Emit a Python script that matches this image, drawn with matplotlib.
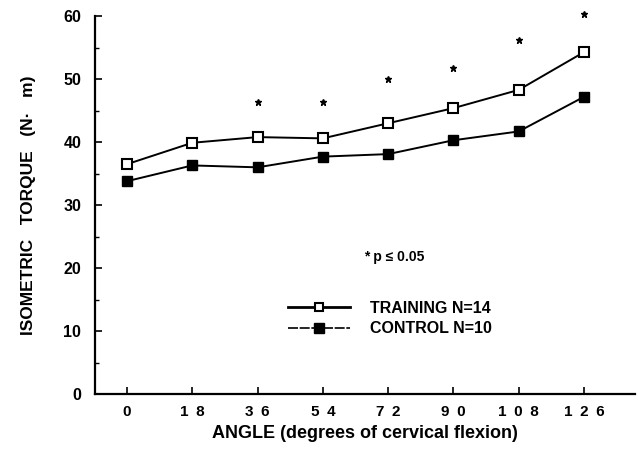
import matplotlib
matplotlib.use("Agg")
import matplotlib.pyplot as plt
from matplotlib.lines import Line2D

angles = [0, 18, 36, 54, 72, 90, 108, 126]
angle_labels = ["0", "1\u20028", "3\u20026", "5\u20024", "7\u20022", "9\u20020",
                "1\u20020\u20028", "1\u20022\u20026"]
training = [36.5, 39.9, 40.8, 40.6, 43.0, 45.4, 48.3, 54.3]
control = [33.8, 36.3, 36.0, 37.7, 38.1, 40.3, 41.7, 47.2]
sig_angles = [36, 54, 72, 90, 108, 126]
sig_y = [46.4, 46.4, 50.0, 51.8, 56.3, 60.3]
yticks = [0, 10, 20, 30, 40, 50, 60]

plt.rcParams['font.family'] = ['Liberation Sans', 'DejaVu Sans']
plt.rcParams['font.weight'] = 'bold'

fig = plt.figure(figsize=(6.38, 4.63), dpi=100)
ax = fig.add_axes([0.149, 0.149, 0.846, 0.816])

ax.plot(angles, training, color='black', lw=1.4, marker='s', ms=6.5,
        mfc='white', mec='black', mew=1.5, clip_on=False, zorder=3)
ax.plot(angles, control, color='black', lw=1.4, marker='s', ms=6.5,
        mfc='black', mec='black', clip_on=False, zorder=3)
ax.plot(sig_angles, sig_y, ls='none', marker='*', ms=5, color='black',
        clip_on=False, zorder=3)

ax.set_xlim(-8.8, 140)
ax.set_ylim(0, 60)
ax.set_xticks(angles)
ax.set_xticklabels(angle_labels)
ax.set_yticks(yticks)
ax.set_yticks([5, 15, 25, 35, 45, 55], minor=True)
for s in ['top', 'right']:
    ax.spines[s].set_visible(False)
for s in ['left', 'bottom']:
    ax.spines[s].set_linewidth(1.6)
ax.tick_params(axis='both', which='major', direction='in', length=5, width=1.2,
               labelsize=11.5)
ax.tick_params(axis='x', which='major', labelsize=11, pad=8)
ax.tick_params(axis='y', which='major', pad=10)
ax.tick_params(axis='y', which='minor', direction='in', length=3, width=1)
for lbl in ax.get_xticklabels() + ax.get_yticklabels():
    lbl.set_fontweight('bold')

ax.set_xlabel("ANGLE (degrees of cervical flexion)", fontsize=13,
              fontweight='bold', labelpad=4)
ax.set_ylabel("ISOMETRIC   TORQUE   (N·   m)", fontsize=12.5,
              fontweight='bold', labelpad=20)

ax.text(65.4, 21.7, "* p ≤ 0.05", fontsize=10, fontweight='bold',
        ha='left', va='center')

h1 = Line2D([], [], color='black', lw=2.0, marker='s', ms=6,
            mfc='white', mec='black', mew=1.5)
h2 = Line2D([], [], color='black', lw=1.2, ls=(0, (6, 1)), marker='s', ms=6.5,
            mfc='black', mec='black')
ax.legend([h1, h2], ["TRAINING N=14", "CONTROL N=10"], frameon=False,
          loc='center left', bbox_to_anchor=(0.331, 0.2), handlelength=3.9,
          handletextpad=1.25, labelspacing=0.35, borderpad=0.4,
          prop={'weight': 'bold', 'size': 11.5})

fig.savefig("out.png", dpi=100)
